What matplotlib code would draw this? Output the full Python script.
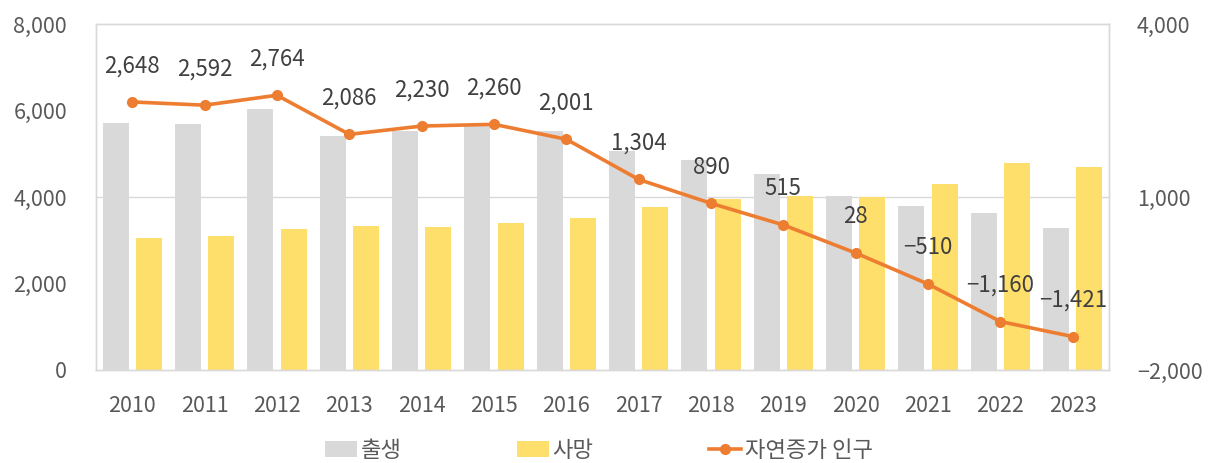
import matplotlib
matplotlib.use("Agg")
import matplotlib.pyplot as plt
import numpy as np

plt.rcParams['font.family'] = ['Noto Sans CJK KR', 'DejaVu Sans']

years = ["2010", "2011", "2012", "2013", "2014", "2015", "2016",
         "2017", "2018", "2019", "2020", "2021", "2022", "2023"]
births = [5700, 5690, 6024, 5416, 5536, 5659, 5515, 5073, 4844, 4538, 4028, 3790, 3626, 3273]
deaths = [3052, 3098, 3260, 3330, 3306, 3399, 3514, 3769, 3954, 4023, 4000, 4300, 4786, 4694]
natural = [2648, 2592, 2764, 2086, 2230, 2260, 2001, 1304, 890, 515, 28, -510, -1160, -1421]

gray = "#d9d9d9"
yellow = "#ffdf6b"
orange = "#ed7d31"
tick_col = "#595959"
lab_col = "#404040"

fig = plt.figure(figsize=(12.22, 4.63), dpi=100)
ax = fig.add_axes([0.0786, 0.2009, 0.8289, 0.7473])
ax2 = ax.twinx()

x = np.arange(len(years))
w = 0.36
ax.axhline(4000, color=gray, lw=1, zorder=0)
ax.bar(x - 0.23, births, w, color=gray, label="출생", zorder=2)
ax.bar(x + 0.23, deaths, w, color=yellow, label="사망", zorder=2)
ax.set_ylim(0, 8000)
ax.set_xlim(-0.5, len(years) - 0.5)
ax.set_yticks([0, 2000, 4000, 6000, 8000])
ax.set_yticklabels([f"{v:,}" for v in [0, 2000, 4000, 6000, 8000]])
ax.set_xticks(x)
ax.set_xticklabels(years)

ax2.plot(x, natural, color=orange, lw=2.6, marker="o", ms=7, label="자연증가 인구", zorder=3)
ax2.set_ylim(-2000, 4000)
ax2.set_yticks([-2000, 1000, 4000])
ax2.set_yticklabels(["\u22122,000", "1,000", "4,000"])

for xi, v in zip(x, natural):
    s = f"{abs(v):,}"
    if v < 0:
        s = "\u2212" + s
    ax2.annotate(s, (xi, v), xytext=(0, 26), textcoords="offset points",
                 ha="center", va="center", fontsize=16, color=lab_col)

for a in (ax, ax2):
    for sp in a.spines.values():
        sp.set_color(gray)
        sp.set_linewidth(1)
    a.tick_params(length=0, labelsize=15.5, colors=tick_col)
    for t in a.get_xticklabels() + a.get_yticklabels():
        t.set_fontweight("light")
ax.tick_params(axis="y", pad=21)
ax2.tick_params(axis="y", pad=20)
ax.tick_params(axis="x", pad=18)

h1, l1 = ax.get_legend_handles_labels()
h2, l2 = ax2.get_legend_handles_labels()
fig.legend(h1 + h2, l1 + l2, loc="center", bbox_to_anchor=(0.49, 0.028), ncol=3,
           frameon=False, prop={"size": 16, "weight": "light"}, handlelength=1.45,
           handleheight=0.72, handletextpad=0.15, columnspacing=5.2, labelcolor=tick_col)

fig.savefig("out.png", dpi=100)
